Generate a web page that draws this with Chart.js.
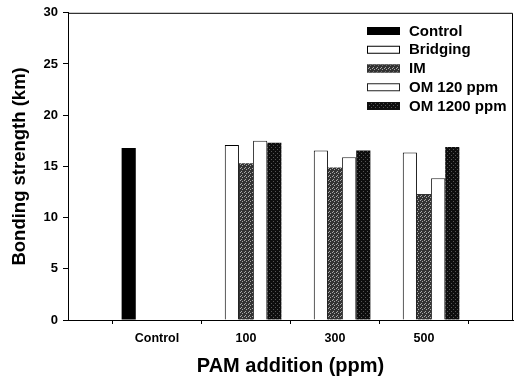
<!DOCTYPE html>
<html>
<head>
<meta charset="utf-8">
<script src="https://cdn.jsdelivr.net/npm/chart.js@4/dist/chart.umd.min.js"></script>
<style>
  html, body { margin: 0; padding: 0; background: #fff; }
  #wrap { width: 520px; height: 379px; }
</style>
</head>
<body>
<div id="wrap"><canvas id="c" width="520" height="379"></canvas></div>
<script>
// Category labels (empty edges pad the axis on both sides)
const categories = ['', 'Control', '100', '300', '500', ''];

// Bonding strength (km) per treatment
const controlVals  = [null, 16.8, null,  null,  null,  null];
const bridgingVals = [null, null, 17.1,  16.55, 16.35, null];
const imVals       = [null, null, 15.3,  14.9,  12.3,  null];
const om120Vals    = [null, null, 17.5,  15.9,  13.85, null];
const om1200Vals   = [null, null, 17.3,  16.55, 16.9,  null];

const seriesNames = ['Control', 'Bridging', 'IM', 'OM 120 ppm', 'OM 1200 ppm'];

const FONT = "'Liberation Sans', Arial, sans-serif";

// Stippled fills for the shaded series
function stipple(base, dot, pts) {
  const t = document.createElement('canvas');
  t.width = 4; t.height = 4;
  const g = t.getContext('2d');
  g.fillStyle = base; g.fillRect(0, 0, 4, 4);
  g.fillStyle = dot;
  pts.forEach(p => g.fillRect(p[0], p[1], 1, 1));
  return g.createPattern(t, 'repeat');
}
const imFill = stipple('#333333', '#a8a8a8', [[0, 0], [2, 1], [1, 3]]);
const om1200Fill = stipple('#0e0e0e', '#555555', [[1, 1], [3, 3]]);

// Legend drawn inside the plot, top-right
const innerLegend = {
  id: 'innerLegend',
  afterDraw(chart) {
    const ctx = chart.ctx;
    const x0 = 367, sw = 33, sh = 8, tx = 409;
    const y0 = 31, dy = 18.75;
    ctx.save();
    ctx.font = 'bold 15px ' + FONT;
    ctx.textBaseline = 'middle';
    ctx.textAlign = 'left';
    chart.data.datasets.forEach((ds, i) => {
      const cy = y0 + i * dy;
      ctx.fillStyle = ds.backgroundColor;
      ctx.fillRect(x0, cy - sh / 2, sw, sh);
      ctx.strokeStyle = ds.borderColor;
      ctx.lineWidth = 1;
      ctx.strokeRect(x0 + 0.5, cy - sh / 2 + 0.5, sw - 1, sh - 1);
      ctx.fillStyle = '#000';
      ctx.fillText(ds.label, tx, cy + 0.5);
    });
    ctx.restore();
  }
};

// Closes the frame on the top and right sides
const frame = {
  id: 'frame',
  afterDatasetsDraw(chart) {
    const a = chart.chartArea;
    const ctx = chart.ctx;
    ctx.save();
    ctx.strokeStyle = '#000';
    ctx.lineWidth = 1;
    ctx.beginPath();
    ctx.moveTo(a.left, a.top + 0.5);
    ctx.lineTo(a.right - 0.5, a.top + 0.5);
    ctx.lineTo(a.right - 0.5, a.bottom);
    ctx.stroke();
    ctx.restore();
  }
};

new Chart(document.getElementById('c'), {
  type: 'bar',
  data: {
    labels: categories,
    datasets: [
      { label: seriesNames[0], data: controlVals,  backgroundColor: '#000',  borderColor: '#000', borderWidth: 0 },
      { label: seriesNames[1], data: bridgingVals, backgroundColor: '#fff',  borderColor: '#000', borderWidth: 1 },
      { label: seriesNames[2], data: imVals,       backgroundColor: imFill,  borderColor: '#333', borderWidth: 0 },
      { label: seriesNames[3], data: om120Vals,    backgroundColor: '#fff',  borderColor: '#222', borderWidth: 1 },
      { label: seriesNames[4], data: om1200Vals,   backgroundColor: om1200Fill, borderColor: '#111', borderWidth: 0 }
    ]
  },
  options: {
    responsive: false,
    animation: false,
    devicePixelRatio: 1,
    layout: { padding: { left: 0, right: 2, top: 1, bottom: 0 } },
    datasets: { bar: { categoryPercentage: 0.795, barPercentage: 1.0 } },
    plugins: {
      legend: { display: false },
      tooltip: { enabled: false }
    },
    scales: {
      x: {
        offset: false,
        afterFit(s) { s.height = 59; },
        grid: { drawOnChartArea: false, tickLength: 4, color: '#000' },
        border: { color: '#000', width: 1 },
        ticks: { color: '#000', padding: 7, font: { family: FONT, weight: 'bold', size: 12.5 }, maxRotation: 0, autoSkip: false },
        title: {
          display: true, text: 'PAM addition (ppm)', color: '#000',
          font: { family: FONT, weight: 'bold', size: 20 },
          padding: { top: 0, bottom: 1 }
        }
      },
      y: {
        min: 0, max: 30,
        afterFit(s) { s.width = 68; },
        grid: { drawOnChartArea: false, tickLength: 5, color: '#000' },
        border: { color: '#000', width: 1 },
        ticks: { stepSize: 5, color: '#000', padding: 5, font: { family: FONT, weight: 'bold', size: 13 } },
        title: {
          display: true, text: 'Bonding strength (km)', color: '#000',
          font: { family: FONT, weight: 'bold', size: 18.5 },
          padding: { top: 9, bottom: 0 }
        }
      }
    }
  },
  plugins: [innerLegend, frame]
});
</script>
</body>
</html>
